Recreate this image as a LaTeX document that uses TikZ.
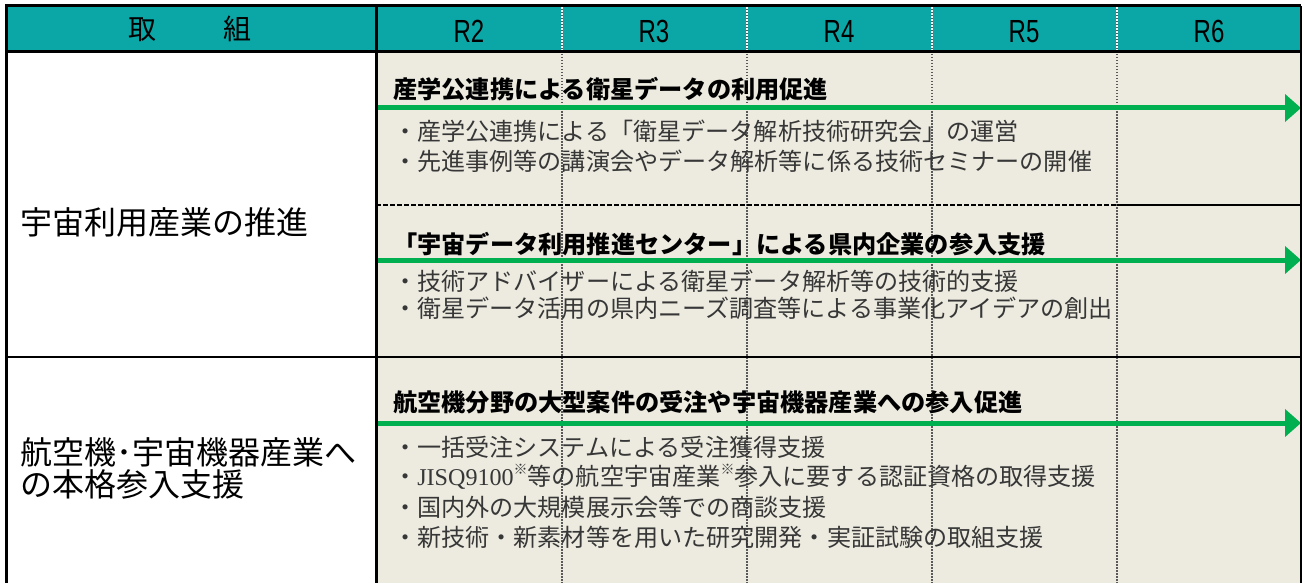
\documentclass[tikz,border=0pt]{standalone}
\usepackage{fontspec}
\usetikzlibrary{arrows.meta}
\setmainfont{Liberation Sans}
\newfontfamily\cjk{Noto Sans CJK JP}
\newfontfamily\serifl{Liberation Serif}
\definecolor{hdr}{RGB}{11,166,166}
\definecolor{beige}{RGB}{237,235,224}
\definecolor{arrowgreen}{RGB}{0,176,80}
\definecolor{bodytxt}{RGB}{55,55,55}
\newcommand{\kome}{\raisebox{0.45em}{\fontsize{14}{14}\selectfont ※}}
\begin{document}
\begin{tikzpicture}[x=1pt,y=-1pt,
  titlebox/.style={anchor=west,inner sep=0pt,font=\cjk\bfseries\fontsize{24.2}{24.2}\selectfont,text height=0.88em,text depth=0.12em},
  bulletbox/.style={anchor=west,inner sep=0pt,font=\cjk\fontsize{24.1}{24.1}\selectfont,text=bodytxt,text height=0.88em,text depth=0.12em},
  leftlbl/.style={anchor=west,inner sep=0pt,align=left,font=\cjk\fontsize{32}{32}\selectfont},
  yearlbl/.style={inner sep=0pt,font=\fontsize{32}{32}\selectfont},
  grnarrow/.style={arrowgreen,line width=5pt,-{Triangle[length=16pt,width=27pt]}},
  bodydot/.style={black!65,line width=1.2pt,dash pattern=on 1.5pt off 1.5pt},
  rule/.style={black,line width=3pt},
]
\useasboundingbox (0,0) rectangle (1305,583);
\fill[white] (0,0) rectangle (1305,583);
% backgrounds
\fill[hdr] (6,6) rectangle (1301,52);
\fill[beige] (376,52) rectangle (1301,583);
% column separators
\foreach \x in {562,747,932,1117}{
  \draw[white,line width=1.2pt] (\x,6) -- (\x,52);
  \draw[bodydot] (\x,6) -- (\x,583);
}
% dashed / solid separator inside row 1
\draw[black,line width=2pt,dash pattern=on 5pt off 2pt] (376,205) -- (1117,205);
\draw[black,line width=2.5pt] (1117,205) -- (1301,205);
% arrows
\coordinate (a1s) at (376,108); \coordinate (a1e) at (1301,108);
\coordinate (a2s) at (376,260); \coordinate (a2e) at (1301,260);
\coordinate (a3s) at (376,423); \coordinate (a3e) at (1301,423);
\draw[grnarrow] (a1s) -- (a1e);
\draw[grnarrow] (a2s) -- (a2e);
\draw[grnarrow] (a3s) -- (a3e);
% borders
\draw[rule] (6,583) -- (6,6) -- (1301,6);
\draw[black,line width=1.5pt] (1301,6) -- (1301,583);
\draw[rule] (6,52) -- (1301,52);
\draw[rule] (376,6) -- (376,583);
\draw[black,line width=2.5pt] (6,357) -- (1301,357);
% header
\node[inner sep=0pt,font=\cjk\fontsize{28}{28}\selectfont] (h0) at (190,29) {取\hspace{68pt}組};
\node[yearlbl] (r2) at (469,31.5) {\scalebox{0.75}[1]{R2}};
\node[yearlbl] (r3) at (654,31.5) {\scalebox{0.75}[1]{R3}};
\node[yearlbl] (r4) at (839,31.5) {\scalebox{0.75}[1]{R4}};
\node[yearlbl] (r5) at (1024,31.5) {\scalebox{0.75}[1]{R5}};
\node[yearlbl] (r6) at (1209,31.5) {\scalebox{0.75}[1]{R6}};
% left column
\node[leftlbl] (l1) at (20,222) {宇宙利用産業の推進};
\node[leftlbl] (l2) at (20,468) {航空機･宇宙機器産業へ\\の本格参入支援};
% block 1
\node[titlebox] (t1) at (393,95) {産学公連携による衛星データの利用促進};
\node[bulletbox] (b11) at (393,137) {・産学公連携による「衛星データ解析技術研究会」の運営};
\node[bulletbox] (b12) at (393,167) {・先進事例等の講演会やデータ解析等に係る技術セミナーの開催};
% block 2
\node[titlebox] (t2) at (393,250) {「宇宙データ利用推進センター」による県内企業の参入支援};
\node[bulletbox] (b21) at (393,287) {・技術アドバイザーによる衛星データ解析等の技術的支援};
\node[bulletbox] (b22) at (393,314) {・衛星データ活用の県内ニーズ調査等による事業化アイデアの創出};
% block 3
\node[titlebox] (t3) at (393,408) {航空機分野の大型案件の受注や宇宙機器産業への参入促進};
\node[bulletbox] (b31) at (393,453) {・一括受注システムによる受注獲得支援};
\node[bulletbox] (b32) at (393,482) {・{\serifl JISQ9100}\kome 等の航空宇宙産業\kome 参入に要する認証資格の取得支援};
\node[bulletbox] (b33) at (393,513) {・国内外の大規模展示会等での商談支援};
\node[bulletbox] (b34) at (393,543) {・新技術・新素材等を用いた研究開発・実証試験の取組支援};
\end{tikzpicture}
\end{document}
